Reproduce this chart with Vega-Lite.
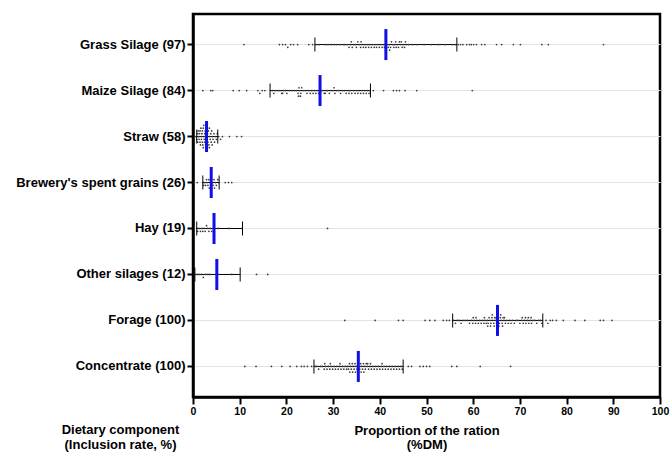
{
  "$schema": "https://vega.github.io/schema/vega-lite/v6.json",
  "autosize": {"type": "none"},
  "padding": {"left": 193, "top": 14, "right": 10, "bottom": 55},
  "width": 467,
  "height": 383,
  "background": "white",
  "config": {
    "view": {"stroke": "#000", "strokeWidth": 2.5},
    "font": "Liberation Sans"
  },
  "datasets": {
    "summary": [
      {"id": "GS", "label": "Grass Silage (97)", "med": 41.3, "lo": 26.1, "hi": 56.5},
      {"id": "MS", "label": "Maize Silage (84)", "med": 27.2, "lo": 16.5, "hi": 38.0},
      {"id": "ST", "label": "Straw (58)", "med": 2.9, "lo": 0.8, "hi": 5.3},
      {"id": "BR", "label": "Brewery's spent grains (26)", "med": 3.9, "lo": 2.1, "hi": 5.6},
      {"id": "HY", "label": "Hay (19)", "med": 4.5, "lo": 0.8, "hi": 10.6},
      {"id": "OS", "label": "Other silages (12)", "med": 5.1, "lo": 0.4, "hi": 10.1},
      {"id": "FO", "label": "Forage (100)", "med": 65.2, "lo": 55.6, "hi": 74.9},
      {"id": "CO", "label": "Concentrate (100)", "med": 35.4, "lo": 25.9, "hi": 45.0}
    ],
    "points": [
      {"id":"GS","v":10.9},{"id":"GS","v":18.5},{"id":"GS","v":19.2},{"id":"GS","v":19.8},{"id":"GS","v":20.3},{"id":"GS","v":20.9},{"id":"GS","v":21.5},{"id":"GS","v":22.4},{"id":"GS","v":24.8},{"id":"GS","v":25.6},
      {"id":"GS","v":26.3},{"id":"GS","v":27.0},{"id":"GS","v":28.4},{"id":"GS","v":29.6},{"id":"GS","v":30.2},{"id":"GS","v":31.5},{"id":"GS","v":32.2},{"id":"GS","v":32.5},{"id":"GS","v":33.0},{"id":"GS","v":33.4},
      {"id":"GS","v":33.7},{"id":"GS","v":34.1},{"id":"GS","v":34.4},{"id":"GS","v":34.8},{"id":"GS","v":35.0},{"id":"GS","v":35.3},{"id":"GS","v":35.6},{"id":"GS","v":35.9},{"id":"GS","v":36.2},{"id":"GS","v":36.5},
      {"id":"GS","v":36.8},{"id":"GS","v":37.0},{"id":"GS","v":37.3},{"id":"GS","v":37.6},{"id":"GS","v":37.9},{"id":"GS","v":38.2},{"id":"GS","v":38.5},{"id":"GS","v":38.8},{"id":"GS","v":39.0},{"id":"GS","v":39.3},
      {"id":"GS","v":39.6},{"id":"GS","v":39.9},{"id":"GS","v":40.2},{"id":"GS","v":40.5},{"id":"GS","v":40.8},{"id":"GS","v":41.0},{"id":"GS","v":28.9},{"id":"GS","v":30.8},{"id":"GS","v":33.9},{"id":"GS","v":36.0},
      {"id":"GS","v":41.5},{"id":"GS","v":41.8},{"id":"GS","v":42.0},{"id":"GS","v":42.3},{"id":"GS","v":42.5},{"id":"GS","v":42.8},{"id":"GS","v":43.0},{"id":"GS","v":43.2},{"id":"GS","v":43.5},{"id":"GS","v":43.8},
      {"id":"GS","v":44.0},{"id":"GS","v":44.2},{"id":"GS","v":44.5},{"id":"GS","v":44.8},{"id":"GS","v":45.0},{"id":"GS","v":45.3},{"id":"GS","v":45.7},{"id":"GS","v":46.2},{"id":"GS","v":47.0},{"id":"GS","v":48.0},
      {"id":"GS","v":49.5},{"id":"GS","v":51.0},{"id":"GS","v":52.5},{"id":"GS","v":54.0},{"id":"GS","v":55.5},{"id":"GS","v":56.2},{"id":"GS","v":42.1},{"id":"GS","v":43.4},{"id":"GS","v":44.6},{"id":"GS","v":45.5},
      {"id":"GS","v":56.8},{"id":"GS","v":57.3},{"id":"GS","v":57.8},{"id":"GS","v":58.6},{"id":"GS","v":59.2},{"id":"GS","v":59.6},{"id":"GS","v":60.1},{"id":"GS","v":60.7},{"id":"GS","v":61.8},{"id":"GS","v":62.5},
      {"id":"GS","v":65.0},{"id":"GS","v":66.1},{"id":"GS","v":68.6},{"id":"GS","v":70.1},{"id":"GS","v":74.7},{"id":"GS","v":76.1},{"id":"GS","v":87.9},
      {"id":"MS","v":2.1},{"id":"MS","v":3.8},{"id":"MS","v":4.2},{"id":"MS","v":8.6},{"id":"MS","v":9.9},{"id":"MS","v":11.5},{"id":"MS","v":13.9},{"id":"MS","v":14.3},{"id":"MS","v":14.8},{"id":"MS","v":15.4},
      {"id":"MS","v":40.8},{"id":"MS","v":42.9},{"id":"MS","v":43.6},{"id":"MS","v":44.2},{"id":"MS","v":45.4},{"id":"MS","v":47.9},{"id":"MS","v":59.8},{"id":"MS","v":38.6},
      {"id":"MS","v":17.0},{"id":"MS","v":17.6},{"id":"MS","v":18.2},{"id":"MS","v":18.6},{"id":"MS","v":19.0},{"id":"MS","v":19.4},{"id":"MS","v":19.8},{"id":"MS","v":20.1},{"id":"MS","v":20.6},{"id":"MS","v":21.2},
      {"id":"MS","v":21.8},{"id":"MS","v":22.2},{"id":"MS","v":22.5},{"id":"MS","v":22.7},{"id":"MS","v":22.9},{"id":"MS","v":23.1},{"id":"MS","v":23.3},{"id":"MS","v":23.6},{"id":"MS","v":24.0},{"id":"MS","v":24.4},
      {"id":"MS","v":24.8},{"id":"MS","v":25.1},{"id":"MS","v":25.4},{"id":"MS","v":25.7},{"id":"MS","v":26.0},{"id":"MS","v":26.3},{"id":"MS","v":26.6},{"id":"MS","v":26.9},{"id":"MS","v":17.3},{"id":"MS","v":19.2},
      {"id":"MS","v":22.6},{"id":"MS","v":23.0},
      {"id":"MS","v":27.5},{"id":"MS","v":27.8},{"id":"MS","v":28.1},{"id":"MS","v":28.5},{"id":"MS","v":28.8},{"id":"MS","v":29.2},{"id":"MS","v":29.6},{"id":"MS","v":30.0},{"id":"MS","v":30.4},{"id":"MS","v":30.8},
      {"id":"MS","v":31.2},{"id":"MS","v":31.6},{"id":"MS","v":32.0},{"id":"MS","v":32.4},{"id":"MS","v":32.8},{"id":"MS","v":33.2},{"id":"MS","v":33.6},{"id":"MS","v":34.0},{"id":"MS","v":34.4},{"id":"MS","v":34.7},
      {"id":"MS","v":35.0},{"id":"MS","v":35.3},{"id":"MS","v":35.6},{"id":"MS","v":35.9},{"id":"MS","v":36.2},{"id":"MS","v":36.5},{"id":"MS","v":36.8},{"id":"MS","v":37.1},{"id":"MS","v":37.4},{"id":"MS","v":37.7},
      {"id":"MS","v":37.9},{"id":"MS","v":28.3},{"id":"MS","v":30.2},{"id":"MS","v":33.4},
      {"id":"ST","v":0.6},{"id":"ST","v":0.8},{"id":"ST","v":1.0},{"id":"ST","v":1.0},{"id":"ST","v":1.2},{"id":"ST","v":1.3},{"id":"ST","v":1.4},{"id":"ST","v":1.5},{"id":"ST","v":1.5},{"id":"ST","v":1.6},
      {"id":"ST","v":1.7},{"id":"ST","v":1.8},{"id":"ST","v":1.8},{"id":"ST","v":1.9},{"id":"ST","v":2.0},{"id":"ST","v":2.0},{"id":"ST","v":2.1},{"id":"ST","v":2.2},{"id":"ST","v":2.2},{"id":"ST","v":2.3},
      {"id":"ST","v":2.4},{"id":"ST","v":2.4},{"id":"ST","v":2.5},{"id":"ST","v":2.5},{"id":"ST","v":2.6},{"id":"ST","v":2.7},{"id":"ST","v":2.8},{"id":"ST","v":2.8},{"id":"ST","v":2.9},{"id":"ST","v":2.9},
      {"id":"ST","v":3.0},{"id":"ST","v":3.0},{"id":"ST","v":3.1},{"id":"ST","v":3.2},{"id":"ST","v":3.3},{"id":"ST","v":3.4},{"id":"ST","v":3.5},{"id":"ST","v":3.5},{"id":"ST","v":3.6},{"id":"ST","v":3.7},
      {"id":"ST","v":3.8},{"id":"ST","v":3.9},{"id":"ST","v":4.0},{"id":"ST","v":4.1},{"id":"ST","v":4.2},{"id":"ST","v":4.3},{"id":"ST","v":4.5},{"id":"ST","v":4.6},{"id":"ST","v":4.8},{"id":"ST","v":5.0},
      {"id":"ST","v":5.2},{"id":"ST","v":5.5},{"id":"ST","v":5.9},{"id":"ST","v":6.3},{"id":"ST","v":7.8},{"id":"ST","v":9.4},{"id":"ST","v":10.4},{"id":"ST","v":1.1},
      {"id":"BR","v":0.3},{"id":"BR","v":0.9},{"id":"BR","v":2.1},{"id":"BR","v":2.3},{"id":"BR","v":2.5},{"id":"BR","v":2.7},{"id":"BR","v":2.9},{"id":"BR","v":3.0},{"id":"BR","v":3.2},{"id":"BR","v":3.4},
      {"id":"BR","v":3.5},{"id":"BR","v":3.7},{"id":"BR","v":3.8},{"id":"BR","v":3.9},{"id":"BR","v":4.0},{"id":"BR","v":4.2},{"id":"BR","v":4.3},{"id":"BR","v":4.5},{"id":"BR","v":4.6},{"id":"BR","v":4.8},
      {"id":"BR","v":5.0},{"id":"BR","v":5.3},{"id":"BR","v":5.5},{"id":"BR","v":6.9},{"id":"BR","v":7.6},{"id":"BR","v":8.3},
      {"id":"HY","v":0.8},{"id":"HY","v":1.0},{"id":"HY","v":1.3},{"id":"HY","v":1.6},{"id":"HY","v":1.9},{"id":"HY","v":2.1},{"id":"HY","v":2.4},{"id":"HY","v":2.6},{"id":"HY","v":2.9},{"id":"HY","v":3.1},
      {"id":"HY","v":3.4},{"id":"HY","v":3.7},{"id":"HY","v":4.0},{"id":"HY","v":4.3},{"id":"HY","v":4.5},{"id":"HY","v":5.4},{"id":"HY","v":7.7},{"id":"HY","v":10.5},{"id":"HY","v":28.8},
      {"id":"OS","v":0.4},{"id":"OS","v":0.9},{"id":"OS","v":1.3},{"id":"OS","v":1.8},{"id":"OS","v":2.2},{"id":"OS","v":2.7},{"id":"OS","v":3.2},{"id":"OS","v":3.6},{"id":"OS","v":5.1},{"id":"OS","v":8.3},
      {"id":"OS","v":13.6},{"id":"OS","v":16.0},
      {"id":"FO","v":32.5},{"id":"FO","v":39.0},{"id":"FO","v":44.0},{"id":"FO","v":45.0},{"id":"FO","v":49.7},{"id":"FO","v":50.7},{"id":"FO","v":51.8},{"id":"FO","v":53.6},{"id":"FO","v":54.3},{"id":"FO","v":54.9},
      {"id":"FO","v":75.6},{"id":"FO","v":76.0},{"id":"FO","v":76.5},{"id":"FO","v":77.0},{"id":"FO","v":77.8},{"id":"FO","v":79.3},{"id":"FO","v":81.8},{"id":"FO","v":83.9},{"id":"FO","v":87.2},{"id":"FO","v":87.9},
      {"id":"FO","v":89.7},
      {"id":"FO","v":55.8},{"id":"FO","v":56.2},{"id":"FO","v":56.6},{"id":"FO","v":57.0},{"id":"FO","v":57.4},{"id":"FO","v":57.8},{"id":"FO","v":58.3},{"id":"FO","v":58.8},{"id":"FO","v":59.2},{"id":"FO","v":59.6},
      {"id":"FO","v":59.9},{"id":"FO","v":60.2},{"id":"FO","v":60.5},{"id":"FO","v":60.8},{"id":"FO","v":61.1},{"id":"FO","v":61.4},{"id":"FO","v":61.7},{"id":"FO","v":62.0},{"id":"FO","v":62.3},{"id":"FO","v":62.5},
      {"id":"FO","v":62.8},{"id":"FO","v":63.0},{"id":"FO","v":63.2},{"id":"FO","v":63.4},{"id":"FO","v":63.6},{"id":"FO","v":63.8},{"id":"FO","v":64.0},{"id":"FO","v":64.2},{"id":"FO","v":64.4},{"id":"FO","v":64.6},
      {"id":"FO","v":64.8},{"id":"FO","v":65.0},{"id":"FO","v":60.0},{"id":"FO","v":60.6},{"id":"FO","v":62.4},{"id":"FO","v":63.1},{"id":"FO","v":63.7},{"id":"FO","v":64.1},{"id":"FO","v":64.5},{"id":"FO","v":64.9},
      {"id":"FO","v":65.4},{"id":"FO","v":65.6},{"id":"FO","v":65.8},{"id":"FO","v":66.0},{"id":"FO","v":66.2},{"id":"FO","v":66.4},{"id":"FO","v":66.6},{"id":"FO","v":66.9},{"id":"FO","v":67.2},{"id":"FO","v":67.5},
      {"id":"FO","v":67.8},{"id":"FO","v":68.1},{"id":"FO","v":68.4},{"id":"FO","v":68.8},{"id":"FO","v":69.2},{"id":"FO","v":69.6},{"id":"FO","v":70.0},{"id":"FO","v":70.4},{"id":"FO","v":70.7},{"id":"FO","v":71.0},
      {"id":"FO","v":71.3},{"id":"FO","v":71.6},{"id":"FO","v":71.9},{"id":"FO","v":72.2},{"id":"FO","v":72.5},{"id":"FO","v":72.8},{"id":"FO","v":73.2},{"id":"FO","v":73.6},{"id":"FO","v":74.0},{"id":"FO","v":74.4},
      {"id":"FO","v":74.7},{"id":"FO","v":65.5},{"id":"FO","v":65.9},{"id":"FO","v":66.3},{"id":"FO","v":66.7},{"id":"FO","v":70.5},{"id":"FO","v":71.2},{"id":"FO","v":71.8},{"id":"FO","v":72.4},
      {"id":"CO","v":11.1},{"id":"CO","v":13.5},{"id":"CO","v":16.8},{"id":"CO","v":19.0},{"id":"CO","v":20.8},{"id":"CO","v":22.2},{"id":"CO","v":23.2},{"id":"CO","v":23.8},{"id":"CO","v":24.5},{"id":"CO","v":25.4},
      {"id":"CO","v":46.1},{"id":"CO","v":46.8},{"id":"CO","v":48.6},{"id":"CO","v":49.3},{"id":"CO","v":50.0},{"id":"CO","v":50.7},{"id":"CO","v":55.4},{"id":"CO","v":56.5},{"id":"CO","v":61.5},{"id":"CO","v":68.0},
      {"id":"CO","v":26.2},{"id":"CO","v":26.5},{"id":"CO","v":26.9},{"id":"CO","v":27.3},{"id":"CO","v":27.7},{"id":"CO","v":28.1},{"id":"CO","v":28.4},{"id":"CO","v":28.7},{"id":"CO","v":29.0},{"id":"CO","v":29.3},
      {"id":"CO","v":29.6},{"id":"CO","v":29.9},{"id":"CO","v":30.2},{"id":"CO","v":30.5},{"id":"CO","v":30.8},{"id":"CO","v":31.1},{"id":"CO","v":31.4},{"id":"CO","v":31.7},{"id":"CO","v":32.0},{"id":"CO","v":32.3},
      {"id":"CO","v":32.6},{"id":"CO","v":32.9},{"id":"CO","v":33.1},{"id":"CO","v":33.3},{"id":"CO","v":33.5},{"id":"CO","v":33.7},{"id":"CO","v":33.9},{"id":"CO","v":34.1},{"id":"CO","v":34.3},{"id":"CO","v":34.5},
      {"id":"CO","v":34.7},{"id":"CO","v":34.9},{"id":"CO","v":35.1},{"id":"CO","v":35.3},{"id":"CO","v":28.2},{"id":"CO","v":29.4},{"id":"CO","v":31.5},{"id":"CO","v":33.6},{"id":"CO","v":34.2},{"id":"CO","v":34.8},
      {"id":"CO","v":35.5},{"id":"CO","v":35.7},{"id":"CO","v":35.9},{"id":"CO","v":36.1},{"id":"CO","v":36.3},{"id":"CO","v":36.5},{"id":"CO","v":36.7},{"id":"CO","v":36.9},{"id":"CO","v":37.1},{"id":"CO","v":37.3},
      {"id":"CO","v":37.6},{"id":"CO","v":37.9},{"id":"CO","v":38.2},{"id":"CO","v":38.5},{"id":"CO","v":38.8},{"id":"CO","v":39.1},{"id":"CO","v":39.4},{"id":"CO","v":39.7},{"id":"CO","v":40.0},{"id":"CO","v":40.3},
      {"id":"CO","v":40.6},{"id":"CO","v":40.9},{"id":"CO","v":41.2},{"id":"CO","v":41.5},{"id":"CO","v":41.8},{"id":"CO","v":42.1},{"id":"CO","v":42.4},{"id":"CO","v":42.7},{"id":"CO","v":43.0},{"id":"CO","v":43.3},
      {"id":"CO","v":43.6},{"id":"CO","v":43.9},{"id":"CO","v":44.2},{"id":"CO","v":44.5},{"id":"CO","v":44.8},{"id":"CO","v":36.0},{"id":"CO","v":36.6},{"id":"CO","v":37.4},{"id":"CO","v":38.0},{"id":"CO","v":40.5}
    ]
  },
  "encoding": {
    "y": {
      "field": "label",
      "type": "nominal",
      "sort": ["Grass Silage (97)", "Maize Silage (84)", "Straw (58)", "Brewery's spent grains (26)", "Hay (19)", "Other silages (12)", "Forage (100)", "Concentrate (100)"],
      "scale": {"type": "band", "paddingInner": 0, "paddingOuter": 0.165},
      "axis": {
        "title": ["Dietary component", "(Inclusion rate, %)"],
        "titleAngle": 0,
        "titleX": -73,
        "titleY": 409,
        "titleAlign": "center",
        "titleBaseline": "top",
        "titleFont": "Liberation Sans",
        "titleFontSize": 13,
        "titleFontWeight": "bold",
        "titleColor": "#000",
        "titleLineHeight": 15,
        "labelFont": "Liberation Sans",
        "labelFontSize": 13,
        "labelFontWeight": "bold",
        "labelColor": "#000",
        "labelPadding": 2,
        "tickColor": "#000",
        "tickSize": 6,
        "tickWidth": 2,
        "domainColor": "#000",
        "domainWidth": 2.5,
        "grid": true,
        "gridColor": "#e4e4e4",
        "gridWidth": 1
      }
    }
  },
  "layer": [
    {
      "data": {"name": "summary"},
      "mark": {"type": "rule", "color": "#000", "strokeWidth": 1},
      "encoding": {
        "x": {
          "field": "lo",
          "type": "quantitative",
          "scale": {"domain": [0, 100], "nice": false},
          "axis": {
            "title": ["Proportion of the ration", "(%DM)"],
            "titleFont": "Liberation Sans",
            "titleFontSize": 13,
            "titleFontWeight": "bold",
            "titleColor": "#000",
            "titlePadding": 8,
            "titleLineHeight": 14,
            "values": [0, 10, 20, 30, 40, 50, 60, 70, 80, 90, 100],
            "labelFont": "Liberation Sans Narrow, Liberation Sans",
            "labelFontSize": 10.5,
            "labelFontWeight": "bold",
            "labelColor": "#000",
            "labelPadding": 2,
            "labelFlush": false,
            "labelOverlap": false,
            "tickColor": "#000",
            "tickSize": 7,
            "tickWidth": 2,
            "domainColor": "#000",
            "domainWidth": 2.5,
            "grid": false
          }
        },
        "x2": {"field": "hi"}
      }
    },
    {
      "data": {"name": "points"},
      "transform": [
        {"lookup": "id", "from": {"data": {"name": "summary"}, "key": "id", "fields": ["label"]}},
        {"bin": {"step": 0.6, "extent": [0, 100]}, "field": "v", "as": "vb"},
        {"window": [{"op": "row_number", "as": "k"}], "groupby": ["id", "vb"]},
        {"calculate": "(datum.k % 2 == 0 ? 1 : -1) * floor(datum.k / 2) * 2.8", "as": "dy"}
      ],
      "mark": {"type": "circle", "size": 3, "color": "#3a3a3a", "opacity": 1},
      "encoding": {
        "x": {"field": "v", "type": "quantitative"},
        "yOffset": {"field": "dy", "type": "quantitative", "scale": {"domain": [-23, 23]}}
      }
    },
    {
      "data": {"name": "summary"},
      "mark": {"type": "tick", "orient": "vertical", "color": "#000", "size": 14, "thickness": 1, "opacity": 1},
      "encoding": {"x": {"field": "lo", "type": "quantitative"}}
    },
    {
      "data": {"name": "summary"},
      "mark": {"type": "tick", "orient": "vertical", "color": "#000", "size": 14, "thickness": 1, "opacity": 1},
      "encoding": {"x": {"field": "hi", "type": "quantitative"}}
    },
    {
      "data": {"name": "summary"},
      "mark": {"type": "tick", "orient": "vertical", "color": "#0f0fe6", "size": 31, "thickness": 3, "opacity": 1},
      "encoding": {"x": {"field": "med", "type": "quantitative"}}
    }
  ]
}
